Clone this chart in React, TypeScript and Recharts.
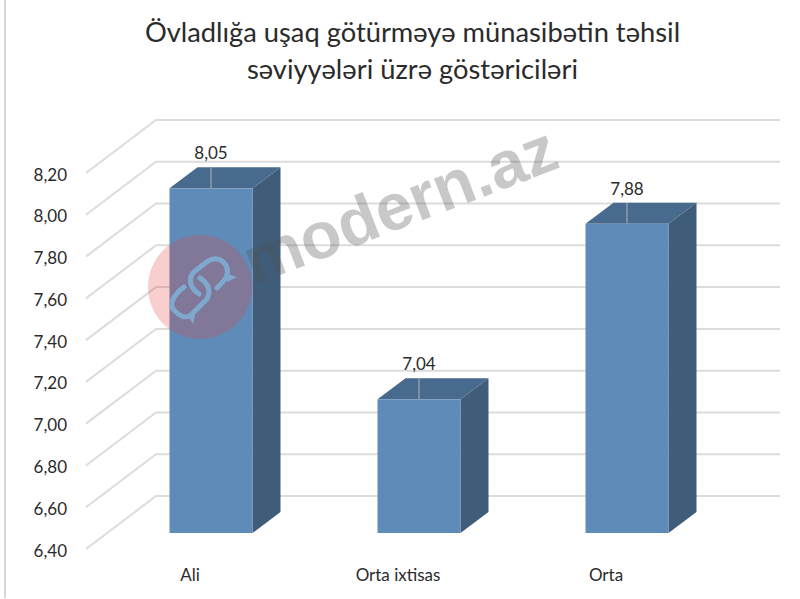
import { BarChart, Bar, CartesianGrid, XAxis, YAxis } from 'recharts';

const categories = ['Ali', 'Orta ixtisas', 'Orta'];
const values = [8.05, 7.04, 7.88];
const yTicks = [6.4, 6.6, 6.8, 7.0, 7.2, 7.4, 7.6, 7.8, 8.0, 8.2];
const titleLines = ['Övladlığa uşaq götürməyə münasibətin təhsil', 'səviyyələri üzrə göstəriciləri'];

const chartData = categories.map((name, i) => ({ name, value: values[i] }));

const FONT = 'Lato, sans-serif';
const TEXT = '#2b2b2b';
const GRID = '#dcdcdc';

// depth of the back wall and of the bars, in px
const WALL_DX = 70;
const WALL_DY = 53;
const BAR_SHIFT_X = 20.5;
const BAR_SHIFT_Y = 16;
const BAR_DX = 28;
const BAR_DY = 21;

const fmt = (v: number) => v.toFixed(2).replace('.', ',');

function GridLine(props: any) {
  const { x1, y1, x2 } = props;
  const points = `${x1},${y1} ${x1 + WALL_DX},${y1 - WALL_DY} ${x2 + WALL_DX},${y1 - WALL_DY}`;
  return <polyline points={points} fill="none" stroke={GRID} strokeWidth={2} />;
}

function Box3D(props: any) {
  const { x, y, width, height, value } = props;
  const l = x + BAR_SHIFT_X;
  const r = l + width;
  const t = y - BAR_SHIFT_Y;
  const b = t + height;
  const cx = l + width / 2;
  return (
    <g>
      <polygon points={`${r},${t} ${r + BAR_DX},${t - BAR_DY} ${r + BAR_DX},${b - BAR_DY} ${r},${b}`} fill="#3f5c79" />
      <polygon points={`${l},${t} ${l + BAR_DX},${t - BAR_DY} ${r + BAR_DX},${t - BAR_DY} ${r},${t}`} fill="#476a8e" />
      <rect x={l} y={t} width={width} height={height} fill="#5f8bb9" />
      <line x1={cx} y1={t} x2={cx} y2={t - BAR_DY} stroke="#a6a6a6" strokeWidth={1.2} />
      <text x={cx} y={t - 29} textAnchor="middle" fontFamily={FONT} fontSize={17} fill={TEXT}>
        {fmt(value)}
      </text>
    </g>
  );
}

function Watermark() {
  return (
    <svg width={800} height={599} style={{ position: 'absolute', left: 0, top: 0, pointerEvents: 'none' }}>
      <circle cx={200} cy={287} r={52} fill="#e63c3c" fillOpacity={0.25} />
      <g fill="none" stroke="#7fa8cf" strokeWidth={5} strokeLinecap="round" strokeLinejoin="round">
        <path d="M184 287 C172 296 168 306 176 312 C182 318 188 318 192 314 L206 300 C211 294 210 284 200 278" />
        <path d="M199 294 C190 288 187 278 195 271 L208 261 C216 256 224 260 227 268 C229 275 225 280 217 288" />
      </g>
      <polygon points="187,315 195,315 193,324" fill="#7fa8cf" />
      <polygon points="225,273 227,282 237,277" fill="#7fa8cf" />
      <text
        x={254}
        y={285}
        transform="rotate(-21 254 285)"
        fontFamily="'Liberation Sans', sans-serif"
        fontWeight={700}
        fontSize={66}
        fill="#555"
        fillOpacity={0.32}
      >
        modern.az
      </text>
    </svg>
  );
}

export default function App() {
  return (
    <div style={{ position: 'absolute', left: 0, top: 0, width: 800, height: 599, background: '#fff', overflow: 'hidden' }}>
      <div style={{ position: 'absolute', left: 4, top: 0, width: 2, height: 598, background: '#d9d9d9' }} />
      <BarChart
        width={800}
        height={599}
        data={chartData}
        margin={{ top: 173, right: 90, bottom: 0, left: 16 }}
      >
        <CartesianGrid vertical={false} horizontal={GridLine as any} />
        <XAxis
          dataKey="name"
          axisLine={false}
          tickLine={false}
          tickMargin={14}
          height={50}
          tick={{ fontFamily: FONT, fontSize: 17, fill: TEXT }}
        />
        <YAxis
          width={70}
          type="number"
          domain={[6.4, 8.2]}
          ticks={yTicks}
          interval={0}
          tickFormatter={fmt}
          axisLine={false}
          tickLine={false}
          tickMargin={13}
          tick={{ fontFamily: FONT, fontSize: 17, fill: TEXT, dy: 1.5 }}
        />
        <Bar dataKey="value" barSize={83} shape={Box3D as any} isAnimationActive={false} />
      </BarChart>
      <svg width={800} height={100} style={{ position: 'absolute', left: 0, top: 0 }}>
        {titleLines.map((line, i) => (
          <text key={line} x={412.5} y={42 + i * 37} textAnchor="middle" fontFamily={FONT} fontSize={27.3} fill={TEXT}>
            {line}
          </text>
        ))}
      </svg>
      <Watermark />
    </div>
  );
}
